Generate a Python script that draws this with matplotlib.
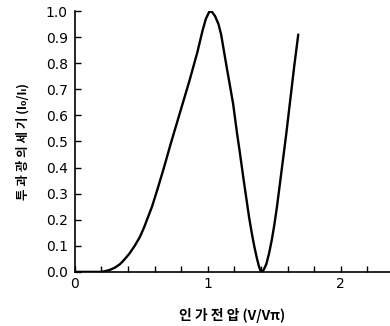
import matplotlib
matplotlib.use("Agg")
import matplotlib.pyplot as plt
from matplotlib.ticker import MultipleLocator

# Applied voltage (V/Vpi) and transmitted intensity (Io/Ii)
voltage = [0.0, 0.20, 0.22, 0.26, 0.30, 0.34, 0.37, 0.41, 0.45, 0.49, 0.52, 0.55,
           0.58, 0.62, 0.67, 0.72, 0.79, 0.86, 0.92, 0.96, 0.985, 1.01, 1.03,
           1.055, 1.08, 1.10, 1.14, 1.19, 1.22, 1.24, 1.27, 1.31, 1.33, 1.35,
           1.37, 1.385, 1.395, 1.405, 1.42, 1.44, 1.46, 1.48, 1.50, 1.52, 1.55,
           1.59, 1.62, 1.65, 1.68]
intensity = [0.0, 0.0, 0.002, 0.007, 0.016, 0.03, 0.046, 0.07, 0.10, 0.135, 0.17, 0.21,
             0.25, 0.315, 0.40, 0.49, 0.61, 0.73, 0.84, 0.925, 0.97, 0.997, 0.998,
             0.98, 0.95, 0.91, 0.79, 0.645, 0.53, 0.46, 0.35, 0.21, 0.15, 0.096,
             0.05, 0.02, 0.006, 0.0, 0.008, 0.03, 0.07, 0.12, 0.18, 0.25, 0.37,
             0.53, 0.66, 0.79, 0.91]

x_ticks = [0, 1, 2]
x_tick_labels = ["0", "1", "2"]
y_ticks = [0.0, 0.1, 0.2, 0.3, 0.4, 0.5, 0.6, 0.7, 0.8, 0.9, 1.0]
y_tick_labels = ["0.0", "0.1", "0.2", "0.3", "0.4", "0.5", "0.6", "0.7", "0.8", "0.9", "1.0"]
x_label = "인 가 전 압 (V/Vπ)"
y_label = "투 과 광 의 세 기 (I₀/Iᵢ)"

fonts = ["Noto Sans CJK KR", "DejaVu Sans"]

fig = plt.figure(figsize=(3.9, 3.26), dpi=100)
ax = fig.add_axes([0.192, 0.166, 0.808, 0.800])
ax.plot(voltage, intensity, color="black", lw=1.7,
        solid_capstyle="round", solid_joinstyle="round")
ax.set_xlim(0, 2.37)
ax.set_ylim(0, 1.0)

for s in ("top", "right"):
    ax.spines[s].set_visible(False)
for s in ("left", "bottom"):
    ax.spines[s].set_linewidth(1.2)

ax.set_xticks(x_ticks)
ax.set_xticklabels(x_tick_labels, fontsize=10)
ax.xaxis.set_minor_locator(MultipleLocator(0.2))
ax.set_yticks(y_ticks)
ax.set_yticklabels(y_tick_labels, fontsize=10)
ax.tick_params(axis="x", which="both", direction="in", length=4, width=1, pad=4)
ax.tick_params(axis="y", which="both", direction="in", length=4, width=1, pad=5)

ax.set_xlabel(x_label, family=fonts, fontsize=10, fontweight="bold", labelpad=12)
ax.set_ylabel(y_label, family=fonts, fontsize=9, fontweight="bold", labelpad=12)

fig.savefig("out.png", dpi=100)
